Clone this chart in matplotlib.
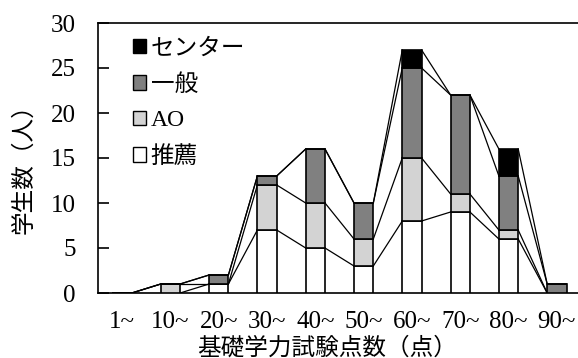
import numpy as np
import matplotlib
matplotlib.use('Agg')
import matplotlib.pyplot as plt
from matplotlib.patches import Patch

plt.rcParams['font.family'] = ['Liberation Serif', 'Noto Sans CJK JP']

# 点数区分と入試区分ごとの学生数
categories = ['1~', '10~', '20~', '30~', '40~', '50~', '60~', '70~', '80~', '90~']
series_names = ['推薦', 'AO', '一般', 'センター']
suisen = [0, 0, 1, 7, 5, 3, 8, 9, 6, 0]
ao = [0, 1, 0, 5, 5, 3, 7, 2, 1, 0]
ippan = [0, 0, 1, 1, 6, 4, 10, 11, 6, 1]
center = [0, 0, 0, 0, 0, 0, 2, 0, 3, 0]
colors = ['#ffffff', '#d3d3d3', '#808080', '#000000']

W, H = 578, 358
fig = plt.figure(figsize=(W / 100, H / 100), dpi=100)
ax = fig.add_axes([98 / W, 1 - 293 / H, 483 / W, 270 / H])

x = np.arange(len(categories))
width = 0.4
bottom = np.zeros(len(categories))
tops = []
for vals, col in zip([suisen, ao, ippan, center], colors):
    vals = np.array(vals, dtype=float)
    ax.bar(x, vals, width, bottom=bottom, color=col, edgecolor='black', linewidth=1.2, zorder=3)
    bottom = bottom + vals
    tops.append(bottom.copy())

# 区分線（棒の右端から次の棒の左端へ）
for t in tops:
    for i in range(len(x) - 1):
        ax.plot([x[i] + width / 2, x[i + 1] - width / 2], [t[i], t[i + 1]],
                color='black', linewidth=0.9, zorder=2)

ax.set_xlim(-0.5, len(categories) - 0.5)
ax.set_ylim(0, 30)
ax.set_yticks(range(0, 31, 5))
ax.set_xticks(x)
ax.set_xticklabels(categories)
ax.tick_params(axis='y', direction='in', length=8, width=1.2, pad=16, labelsize=18)
ax.tick_params(axis='x', length=0, pad=13, labelsize=18)
for s in ax.spines.values():
    s.set_linewidth(1.2)

ax.set_ylabel('学生数（人）', fontsize=17)
ax.yaxis.set_label_coords(-0.13, 0.48)
ax.set_xlabel('基礎学力試験点数（点）', fontsize=17)
ax.xaxis.set_label_coords(0.474, -0.162)

handles = [Patch(facecolor=c, edgecolor='black', linewidth=1) for c in colors]
ax.legend(handles[::-1], series_names[::-1], loc='upper left', frameon=False,
          fontsize=17, handlelength=0.55, handleheight=0.55, handletextpad=0.2,
          labelspacing=0.62, bbox_to_anchor=(35 / 483, 0.943),
          borderaxespad=0, borderpad=0)

fig.savefig('out.png', dpi=100)
